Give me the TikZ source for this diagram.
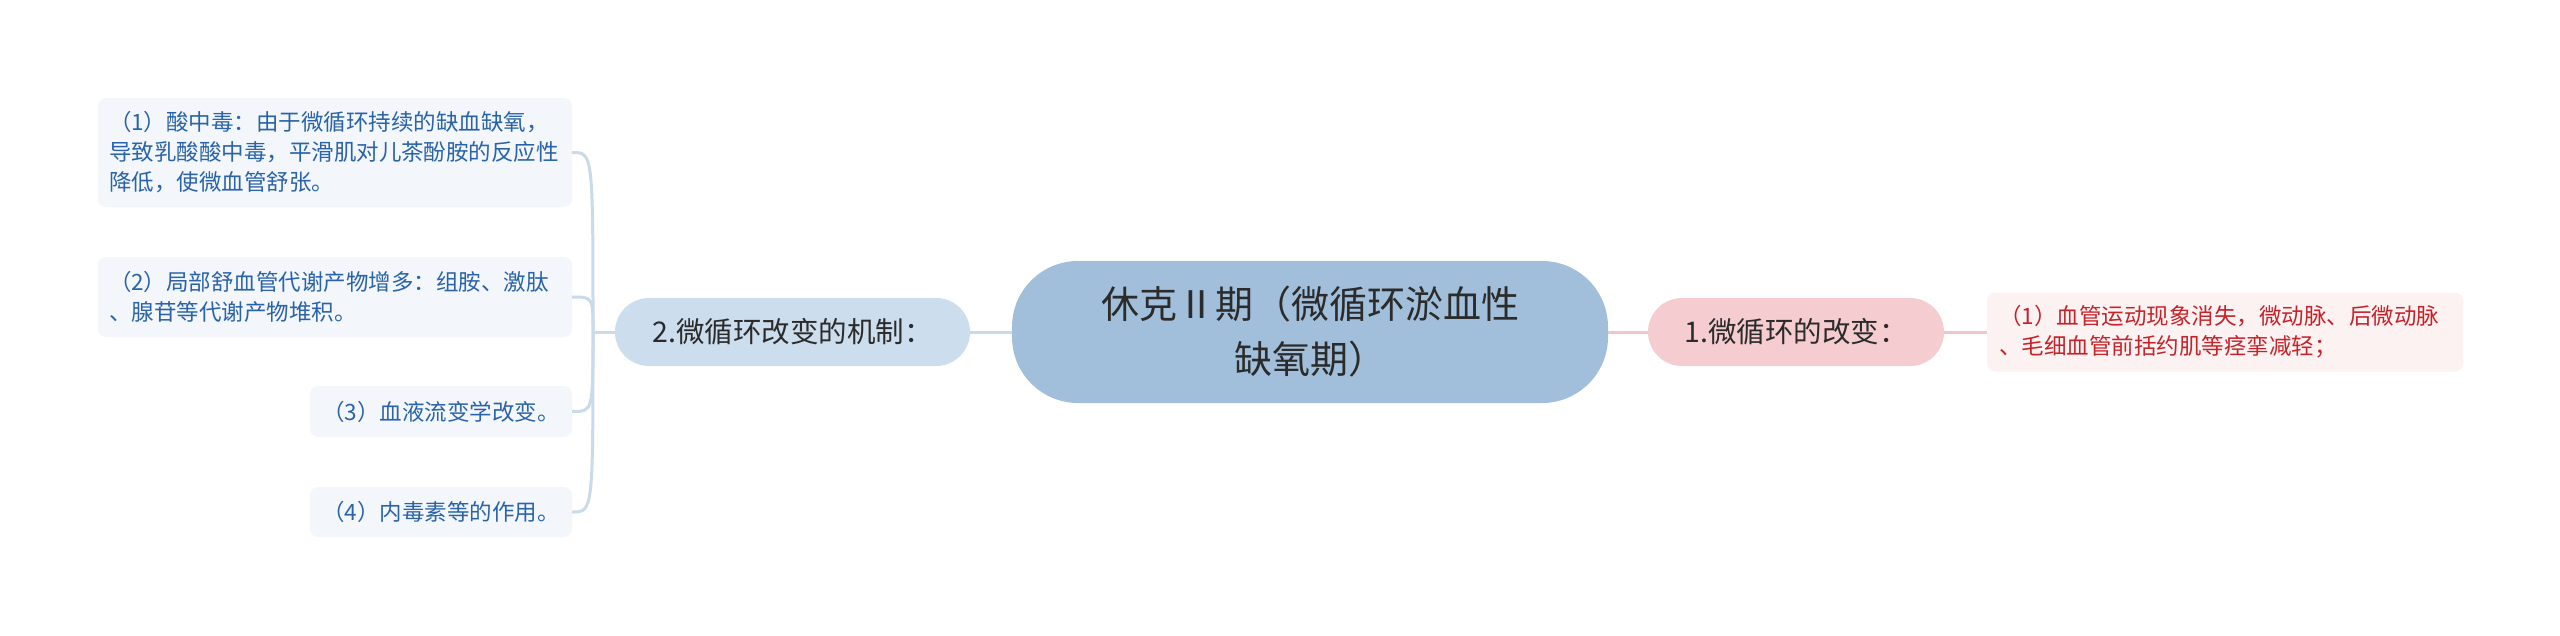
\documentclass[tikz,border=0pt]{standalone}
\usepackage{fontspec}
\newfontfamily\cjk{Noto Sans CJK SC}
\definecolor{rootfill}{HTML}{A1BFDA}
\definecolor{bluebranch}{HTML}{CCDDED}
\definecolor{pinkbranch}{HTML}{F5CDD0}
\definecolor{blueleaf}{HTML}{F3F7FC}
\definecolor{pinkleaf}{HTML}{FDF2F2}
\definecolor{bluetext}{HTML}{2A63A8}
\definecolor{redtext}{HTML}{C4232A}
\definecolor{darktext}{HTML}{2B2B2B}
\definecolor{blueline}{HTML}{CBDAE9}
\definecolor{pinkline}{HTML}{F3C5C8}
\begin{document}
\begin{tikzpicture}[x=1pt,y=-1pt,
        root/.style={fill=rootfill,rounded corners=66pt,align=center,text=darktext,
            font=\cjk\fontsize{38}{55}\selectfont,minimum width=596pt,minimum height=142pt},
        branch/.style={rounded corners=34pt,text=darktext,font=\cjk\fontsize{28.5}{34}\selectfont,
            minimum height=68pt},
        leaf/.style={fill=blueleaf,rounded corners=8pt,text=bluetext,align=left,
            font=\cjk\fontsize{22.5}{30}\selectfont,inner xsep=11pt},
        lconn/.style={draw=blueline,line width=3pt},
        rconn/.style={draw=pinkline,line width=3pt}]
    \fill[white] (0,0) rectangle (2560,635);
    \useasboundingbox (0,0) rectangle (2560,635);
    % centre
    \node[root] (root) at (1310,332) {休克Ⅱ期（微循环淤血性\\缺氧期）};
    % left side
    \node[branch,fill=bluebranch,minimum width=355pt] (mech) at (792.5,332) {2.微循环改变的机制：};
    \node[leaf,text width=452pt,minimum height=109pt] (acid) at (335,152.5)
        {（1）酸中毒：由于微循环持续的缺血缺氧，\\导致乳酸酸中毒，平滑肌对儿茶酚胺的反应性\\降低，使微血管舒张。};
    \node[leaf,text width=452pt,minimum height=80pt] (meta) at (335,297)
        {（2）局部舒血管代谢产物增多：组胺、激肽\\、腺苷等代谢产物堆积。};
    \node[leaf,minimum width=262pt,minimum height=51pt] (rheo) at (441,411.5) {（3）血液流变学改变。};
    \node[leaf,minimum width=262pt,minimum height=50pt] (toxin) at (441,512) {（4）内毒素等的作用。};
    \coordinate (fork) at (593,332);
    \draw[lconn] (root.west) -- (mech.east);
    \draw[lconn] (mech.west) -- (fork);
    \foreach \l in {acid,meta,rheo,toxin}
        \draw[lconn] (fork) .. controls (fork |- \l.east) .. (\l.east);
    % right side
    \node[branch,fill=pinkbranch,minimum width=296pt] (change) at (1796,332) {1.微循环的改变：};
    \node[leaf,fill=pinkleaf,text=redtext,text width=452pt,inner xsep=12pt,minimum height=79pt] (vaso) at (2225,332)
        {（1）血管运动现象消失，微动脉、后微动脉\\、毛细血管前括约肌等痉挛减轻；};
    \draw[rconn] (root.east) -- (change.west);
    \draw[rconn] (change.east) -- (vaso.west);
\end{tikzpicture}
\end{document}
